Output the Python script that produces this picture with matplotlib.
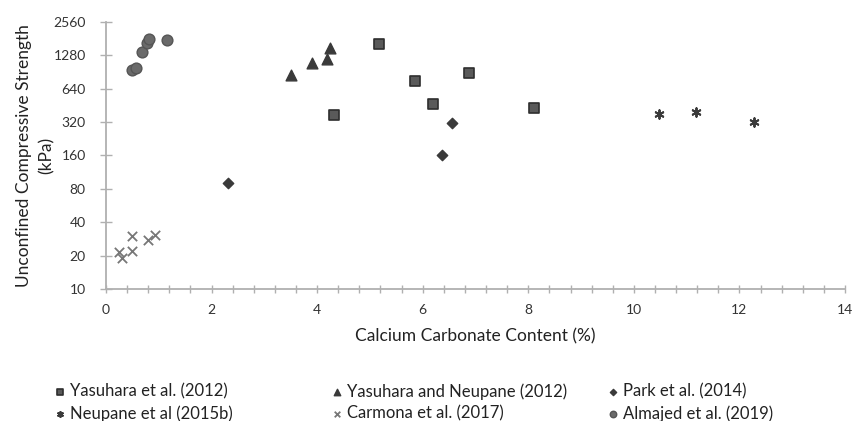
import matplotlib
matplotlib.use("Agg")
import matplotlib.pyplot as plt
from matplotlib.ticker import FixedLocator, MultipleLocator, NullFormatter

plt.rcParams['font.family'] = ['Lato', 'DejaVu Sans']

# Data (CaCO3 %, UCS kPa)
yas12_x = [4.31, 5.17, 5.85, 6.20, 6.88, 8.10]
yas12_y = [370, 1620, 745, 468, 890, 430]
yn12_x = [3.50, 3.90, 4.19, 4.25]
yn12_y = [850, 1100, 1190, 1490]
park_x = [2.32, 6.36, 6.56]
park_y = [90, 160, 316]
nep_x = [10.48, 11.18, 12.28]
nep_y = [378, 396, 324]
carm_x = [0.24, 0.30, 0.49, 0.49, 0.79, 0.93]
carm_y = [21.7, 18.9, 30.1, 22.0, 27.6, 30.9]
alm_x = [0.50, 0.56, 0.69, 0.78, 0.82, 1.16]
alm_y = [942, 995, 1375, 1658, 1795, 1758]

yticks = [10, 20, 40, 80, 160, 320, 640, 1280, 2560]
xticks = [0, 2, 4, 6, 8, 10, 12, 14]

W, H = 853, 421
fig = plt.figure(figsize=(W / 100, H / 100), dpi=100)
ax = fig.add_axes([106 / W, 1 - 289 / H, (845 - 106) / W, (289 - 22) / H])

dark = '#3a3a3a'
h1 = ax.scatter(yas12_x, yas12_y, marker='s', s=55, c='#5a5a5a', edgecolors='#2e2e2e', linewidths=1.2,
                label='Yasuhara et al. (2012)', zorder=3)
h2 = ax.scatter(yn12_x, yn12_y, marker='^', s=60, c=dark, edgecolors=dark,
                label='Yasuhara and Neupane (2012)', zorder=3)
h3 = ax.scatter(park_x, park_y, marker='D', s=28, c=dark, edgecolors=dark,
                label='Park et al. (2014)', zorder=3)
h4 = ax.scatter(nep_x, nep_y, marker=(6, 2, 0), s=38, c=dark, linewidths=1.4,
                label='Neupane et al (2015b)', zorder=3)
h5 = ax.scatter(carm_x, carm_y, marker='x', s=45, c='#777777', linewidths=1.3,
                label='Carmona et al. (2017)', zorder=3)
h6 = ax.scatter(alm_x, alm_y, marker='o', s=60, c='#6a6a6a', edgecolors='#555555',
                label='Almajed et al. (2019)', zorder=3)

ax.set_yscale('log', base=2)
ax.set_ylim(10, 2560)
ax.set_xlim(0, 14)
ax.yaxis.set_major_locator(FixedLocator(yticks))
ax.set_yticklabels([str(v) for v in yticks])
ax.yaxis.set_minor_locator(FixedLocator([]))
ax.yaxis.set_minor_formatter(NullFormatter())
ax.xaxis.set_major_locator(FixedLocator(xticks))
ax.set_xticklabels([str(v) for v in xticks])
ax.xaxis.set_minor_locator(MultipleLocator(0.4))

for s in ['top', 'right']:
    ax.spines[s].set_visible(False)
for s in ['left', 'bottom']:
    ax.spines[s].set_color('#b0b0b0')
    ax.spines[s].set_linewidth(1.3)

ax.tick_params(axis='both', which='both', direction='inout', color='#b0b0b0', width=1.0,
               labelsize=10, labelcolor='#333333')
ax.tick_params(axis='y', which='major', length=9, pad=10)
ax.tick_params(axis='x', which='major', length=6, pad=8)
ax.tick_params(axis='x', which='minor', length=6)

ax.set_xlabel('Calcium Carbonate Content (%)', fontsize=12.5, color='#222222', labelpad=9)
ax.set_ylabel('Unconfined Compressive Strength\n(kPa)', fontsize=12.5, color='#222222', labelpad=-1,
              linespacing=1.5)

cols = [([h1, h4], 54), ([h2, h5], 331), ([h3, h6], 607)]
for hs, xl in cols:
    leg = fig.legend(handles=hs, labels=[h.get_label() for h in hs], loc='upper left',
                     bbox_to_anchor=(xl / W, 1 - 383 / H), frameon=False, fontsize=12,
                     handletextpad=0.25, handlelength=0.7, markerscale=0.6,
                     labelspacing=0.35, borderpad=0, borderaxespad=0, labelcolor='#222222')

fig.savefig('out.png', dpi=100)
